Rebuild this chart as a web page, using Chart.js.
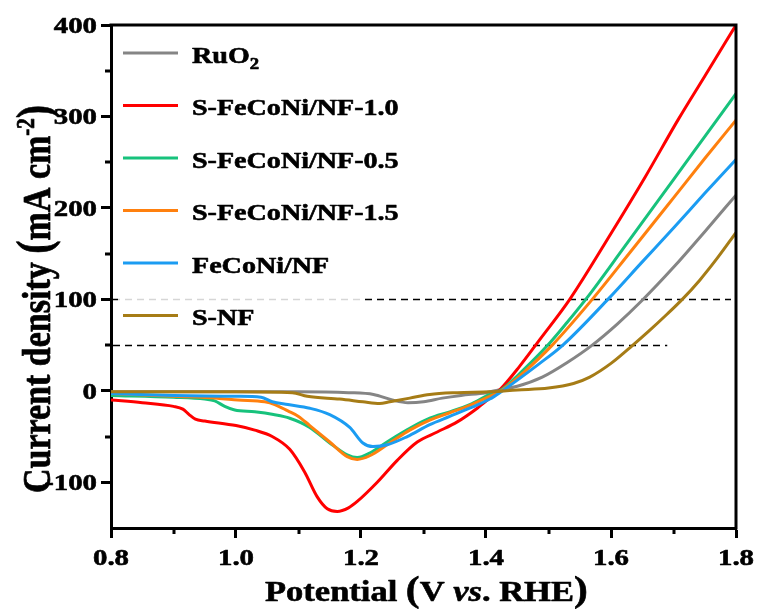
<!DOCTYPE html>
<html>
<head>
<meta charset="utf-8">
<title>LSV curves</title>
<script src="https://cdn.jsdelivr.net/npm/chart.js@4.4.1/dist/chart.umd.min.js"></script>
<style>
  html, body { margin: 0; padding: 0; background: #ffffff; }
  canvas { display: block; }
</style>
</head>
<body>
<canvas id="lsv" width="758" height="610"></canvas>
<script>
// Potential (V vs. RHE) and current density (mA cm^-2) for each electrode
const ruo2V   = [0.80, 0.90, 1.00, 1.10, 1.18, 1.22, 1.25, 1.275, 1.30, 1.33, 1.36, 1.40, 1.42, 1.45, 1.49, 1.53, 1.57, 1.61, 1.65, 1.70, 1.75, 1.80];
const ruo2J   = [-1, -1, -1, -1, -2, -4, -10, -13, -12, -8, -5, -2, 1, 5, 15, 31, 50, 73, 99, 135, 174, 214];

const sfcn10V = [0.80, 0.85, 0.90, 0.915, 0.925, 0.935, 0.95, 1.00, 1.03, 1.058, 1.086, 1.11, 1.13, 1.146, 1.162, 1.18, 1.194, 1.226, 1.258, 1.29, 1.322, 1.354, 1.386, 1.406, 1.422, 1.454, 1.486, 1.534, 1.60, 1.654, 1.707, 1.75, 1.80];
const sfcn10J = [-10, -13, -17, -20, -26, -31, -33, -38, -43, -50, -64, -89, -116, -129, -132, -128, -121, -100, -76, -56, -45, -34, -19, -8, 1, 27, 56, 100, 172, 233, 296, 344, 400];

const sfcn05V = [0.80, 0.90, 0.95, 0.966, 0.982, 0.998, 1.03, 1.06, 1.086, 1.118, 1.15, 1.178, 1.194, 1.214, 1.246, 1.278, 1.31, 1.342, 1.374, 1.406, 1.422, 1.46, 1.499, 1.53, 1.563, 1.62, 1.70, 1.75, 1.80];
const sfcn05J = [-5, -7, -9, -11, -17, -21, -23, -26, -30, -40, -57, -70, -73, -68, -54, -41, -30, -23, -15, -4, 0, 23, 50, 75, 103, 156, 231, 278, 325];

const sfcn15V = [0.80, 0.90, 0.97, 1.003, 1.046, 1.062, 1.083, 1.10, 1.118, 1.15, 1.178, 1.194, 1.214, 1.246, 1.278, 1.31, 1.342, 1.374, 1.406, 1.422, 1.46, 1.506, 1.570, 1.63, 1.70, 1.75, 1.80];
const sfcn15J = [-3, -6, -8, -10, -12, -15, -22, -28, -38, -56, -72, -75, -71, -57, -43, -32, -24, -16, -6, -1, 20, 50, 100, 151, 211, 254, 296];

const fcnV    = [0.80, 0.90, 1.00, 1.04, 1.058, 1.083, 1.118, 1.15, 1.182, 1.203, 1.219, 1.242, 1.274, 1.31, 1.342, 1.374, 1.406, 1.422, 1.486, 1.523, 1.595, 1.65, 1.70, 1.75, 1.80];
const fcnJ    = [-3, -5, -6, -7, -12, -15, -19, -26, -40, -57, -61, -59, -50, -37, -28, -19, -9, -2, 30, 50, 100, 141, 178, 216, 253];

const snfV    = [0.80, 0.90, 1.00, 1.09, 1.114, 1.166, 1.203, 1.23, 1.246, 1.278, 1.31, 1.354, 1.406, 1.45, 1.50, 1.54, 1.566, 1.60, 1.635, 1.66, 1.69, 1.714, 1.742, 1.77, 1.80];
const snfJ    = [-1, -1, -1, -2, -6, -9, -12, -14, -12, -8, -4, -2, -1, 1, 3, 8, 15, 30, 50, 65, 84, 100, 121, 145, 173];

const seriesLabels = ['RuO2', 'S-FeCoNi/NF-1.0', 'S-FeCoNi/NF-0.5', 'S-FeCoNi/NF-1.5', 'FeCoNi/NF', 'S-NF'];
const seriesColors = ['#858585', '#ff0000', '#17c27c', '#ff800e', '#1b9cf2', '#a67c16'];

// Reference current levels (mA cm^-2) and the potential where each dashed guide stops
const refLevels = [100, 50];
const refEnds   = [1.792, 1.69];

// Axis ranges and tick steps
const xMin = 0.8, xMax = 1.8, xStep = 0.2, xMinorTicks = [0.9, 1.1, 1.3, 1.5, 1.7];
const yMin = -150, yMax = 400, yStep = 100, yMinorTicks = [-50, 50, 150, 250, 350];

const SERIF = '"Liberation Serif", "Times New Roman", Times, serif';
const fnt = (size, italic) => (italic ? 'italic ' : '') + 'bold ' + size + 'px ' + SERIF;

function toXY(vs, js) { return vs.map((v, i) => ({ x: v, y: js[i] })); }

// filled text with a hairline outline for a heavier bold look
function boldText(ctx, text, x, y) {
  ctx.fillText(text, x, y);
  ctx.strokeText(text, x, y);
}

function drawRuns(ctx, runs, x, y) {
  let cx = x;
  runs.forEach(r => {
    ctx.font = r.font;
    boldText(ctx, r.text, cx, y + (r.dy || 0));
    cx += ctx.measureText(r.text).width;
  });
}

function legendRuns(label) {
  const base = fnt(24);
  const m = label.match(/^(RuO)(2)$/);
  if (m) return [{ text: m[1], font: base }, { text: m[2], font: fnt(16), dy: 6 }];
  return [{ text: label, font: base }];
}

const decor = {
  id: 'lsvDecor',
  beforeDatasetsDraw(chart) {
    const { ctx, chartArea, scales } = chart;
    const xs = scales.x, ys = scales.y;
    ctx.save();
    ctx.strokeStyle = '#000';
    ctx.lineWidth = 1.5;
    ctx.setLineDash([7, 5]);
    refLevels.forEach((lv, i) => {
      const py = Math.round(ys.getPixelForValue(lv)) + 0.5;
      ctx.beginPath();
      ctx.moveTo(chartArea.left + 2, py);
      ctx.lineTo(xs.getPixelForValue(refEnds[i]), py);
      ctx.stroke();
    });
    ctx.setLineDash([]);
    // translucent legend panel
    ctx.fillStyle = 'rgba(255,255,255,0.84)';
    ctx.fillRect(118, 32, 242, 298);
    ctx.restore();
  },
  afterDraw(chart) {
    const { ctx, chartArea, scales } = chart;
    const xs = scales.x, ys = scales.y;
    const L = chartArea.left, R = chartArea.right, T = chartArea.top, B = chartArea.bottom;
    ctx.save();

    // closing frame (top and right)
    ctx.strokeStyle = '#000';
    ctx.lineWidth = 3;
    ctx.beginPath();
    ctx.moveTo(L - 1.5, T);
    ctx.lineTo(R, T);
    ctx.lineTo(R, B + 1.5);
    ctx.stroke();

    // minor ticks
    ctx.lineWidth = 3;
    ctx.beginPath();
    yMinorTicks.forEach(v => {
      const py = Math.round(ys.getPixelForValue(v));
      ctx.moveTo(L - 6, py); ctx.lineTo(L, py);
    });
    xMinorTicks.forEach(v => {
      const px = Math.round(xs.getPixelForValue(v));
      ctx.moveTo(px, B); ctx.lineTo(px, B + 6);
    });
    ctx.stroke();

    // tick labels
    ctx.fillStyle = '#000';
    ctx.strokeStyle = '#000';
    ctx.lineWidth = 0.6;
    ctx.lineJoin = 'round';
    ctx.font = fnt(24);
    const sx = 1.2;
    ys.ticks.forEach(t => {
      const py = ys.getPixelForValue(t.value);
      ctx.save();
      ctx.translate(97, py + 8);
      ctx.scale(sx, 1);
      ctx.textAlign = 'right';
      boldText(ctx, String(Math.round(t.value)), 0, 0);
      ctx.restore();
    });
    xs.ticks.forEach(t => {
      const px = xs.getPixelForValue(t.value);
      ctx.save();
      ctx.translate(px, 565);
      ctx.scale(sx, 1);
      ctx.textAlign = 'center';
      boldText(ctx, t.value.toFixed(1), 0, 0);
      ctx.restore();
    });

    // axis titles
    ctx.textAlign = 'left';
    ctx.save();
    ctx.translate(265, 601);
    ctx.scale(1.15, 1);
    drawRuns(ctx, [
      { text: 'Potential ', font: fnt(30) },
      { text: '(', font: fnt(36) },
      { text: 'V ', font: fnt(30) },
      { text: 'vs', font: fnt(30, true) },
      { text: '. RHE', font: fnt(30) },
      { text: ')', font: fnt(36) }
    ], 0, 0);
    ctx.restore();

    ctx.save();
    ctx.translate(50, 493);
    ctx.scale(1.2, 1);
    ctx.rotate(-Math.PI / 2);
    drawRuns(ctx, [
      { text: 'Current density ', font: fnt(34) },
      { text: '(', font: fnt(40) },
      { text: 'mA cm', font: fnt(34) },
      { text: '-2', font: fnt(21), dy: -13 },
      { text: ')', font: fnt(40) }
    ], 0, 0);
    ctx.restore();

    // legend
    chart.data.datasets.forEach((ds, i) => {
      const py = 53 + i * 52.5;
      ctx.save();
      ctx.strokeStyle = ds.borderColor;
      ctx.lineWidth = 3;
      ctx.beginPath();
      ctx.moveTo(123, py); ctx.lineTo(178, py);
      ctx.stroke();
      ctx.restore();
      ctx.save();
      ctx.translate(192, py + 9.5);
      ctx.scale(1.17, 1);
      ctx.fillStyle = '#000';
      drawRuns(ctx, legendRuns(ds.label), 0, 0);
      ctx.restore();
    });

    ctx.restore();
  }
};

const seriesData = [
  toXY(ruo2V, ruo2J),
  toXY(sfcn10V, sfcn10J),
  toXY(sfcn05V, sfcn05J),
  toXY(sfcn15V, sfcn15J),
  toXY(fcnV, fcnJ),
  toXY(snfV, snfJ)
];

new Chart(document.getElementById('lsv'), {
  type: 'line',
  data: {
    datasets: seriesLabels.map((label, i) => ({
      label,
      data: seriesData[i],
      borderColor: seriesColors[i],
      backgroundColor: seriesColors[i],
      borderWidth: 3,
      pointRadius: 0,
      fill: false,
      cubicInterpolationMode: 'monotone',
      // later series are drawn on top
      order: -i
    }))
  },
  options: {
    responsive: false,
    animation: false,
    devicePixelRatio: 1,
    layout: { padding: { left: 0, top: 25, right: 22, bottom: 0 } },
    plugins: { legend: { display: false }, tooltip: { enabled: false } },
    scales: {
      x: {
        type: 'linear',
        min: xMin, max: xMax,
        ticks: { display: false, stepSize: xStep },
        grid: { drawOnChartArea: false, drawTicks: true, tickLength: 10, tickWidth: 3, tickColor: '#000' },
        border: { display: true, width: 3, color: '#000' },
        afterFit(scale) { scale.height = 82; }
      },
      y: {
        type: 'linear',
        min: yMin, max: yMax,
        ticks: { display: false, stepSize: yStep },
        afterBuildTicks(scale) { scale.ticks = scale.ticks.filter(t => Math.abs(t.value % yStep) < 1e-9); },
        grid: { drawOnChartArea: false, drawTicks: true, tickLength: 10, tickWidth: 3, tickColor: '#000' },
        border: { display: true, width: 3, color: '#000' },
        afterFit(scale) { scale.width = 111; }
      }
    }
  },
  plugins: [decor]
});
</script>
</body>
</html>
